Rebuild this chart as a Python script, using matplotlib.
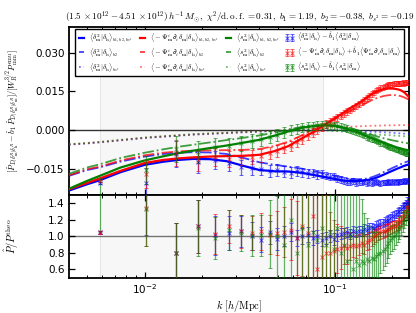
#Residual bias spectra of the three quadratic operators, with model curves and ratio panel
import matplotlib
matplotlib.use('Agg')
import matplotlib.pyplot as plt
import numpy as np

#k bins of the measurement [h/Mpc]
k = [0.0058, 0.0102, 0.0146, 0.0190, 0.0234, 0.0278, 0.0322, 0.0366, 0.0410, 0.0454,
     0.0498, 0.0542, 0.0586, 0.0630, 0.0674, 0.0718, 0.0762, 0.0806, 0.0850, 0.0894,
     0.0938, 0.0982, 0.1026, 0.1070, 0.1114, 0.1158, 0.1202, 0.1246, 0.1290, 0.1334,
     0.1378, 0.1422, 0.1466, 0.1510, 0.1554, 0.1598, 0.1642, 0.1686, 0.1730, 0.1774,
     0.1818, 0.1862, 0.1906, 0.1950, 0.1994, 0.2038, 0.2082, 0.2126, 0.2170, 0.2214,
     0.2258, 0.2302, 0.2346, 0.2390]

#measured residuals (top panel)
data_d2 = [-0.0205, -0.0204, -0.0094, -0.0125, -0.0116, -0.0128, -0.0145, -0.0148, -0.0150, -0.0160,
           -0.0155, -0.0161, -0.0165, -0.0160, -0.0164, -0.0168, -0.0166, -0.0172, -0.0170, -0.0176,
           -0.0181, -0.0179, -0.0188, -0.0192, -0.0197, -0.0200, -0.0202, -0.0199, -0.0204, -0.0201,
           -0.0203, -0.0200, -0.0205, -0.0202, -0.0206, -0.0203, -0.0200, -0.0204, -0.0206, -0.0202,
           -0.0205, -0.0203, -0.0200, -0.0204, -0.0201, -0.0203, -0.0199, -0.0202, -0.0200, -0.0198,
           -0.0201, -0.0197, -0.0199, -0.0196]
data_psi = [-0.0198, -0.0170, -0.0089, -0.0118, -0.0105, -0.0113, -0.0106, -0.0103, -0.0100, -0.0088,
            -0.0081, -0.0070, -0.0062, -0.0045, -0.0036, -0.0021, -0.0010, 0.0001, 0.0012, 0.0022,
            0.0031, 0.0041, 0.0049, 0.0056, 0.0063, 0.0072, 0.0079, 0.0086, 0.0094, 0.0101,
            0.0108, 0.0116, 0.0123, 0.0131, 0.0139, 0.0146, 0.0152, 0.0158, 0.0163, 0.0166,
            0.0170, 0.0173, 0.0175, 0.0177, 0.0178, 0.0180, 0.0179, 0.0181, 0.0182, 0.0180,
            0.0183, 0.0182, 0.0184, 0.0183]
data_s2 = [-0.0390, -0.0156, -0.0074, -0.0085, -0.0066, -0.0063, -0.0052, -0.0044, -0.0036, -0.0028,
           -0.0019, -0.0008, 0.0000, 0.0005, 0.0010, 0.0014, 0.0017, 0.0018, 0.0020, 0.0021,
           0.0019, 0.0018, 0.0016, 0.0013, 0.0009, 0.0005, 0.0001, -0.0004, -0.0008, -0.0013,
           -0.0017, -0.0021, -0.0026, -0.0030, -0.0034, -0.0038, -0.0042, -0.0046, -0.0050, -0.0053,
           -0.0057, -0.0060, -0.0063, -0.0066, -0.0069, -0.0072, -0.0074, -0.0077, -0.0079, -0.0082,
           -0.0084, -0.0086, -0.0089, -0.0091]
err_top = [0.0005, 0.0055, 0.0050, 0.0042, 0.0036, 0.0032, 0.0030, 0.0027, 0.0025, 0.0023,
           0.0022, 0.0021, 0.0020, 0.0019, 0.0018, 0.0017, 0.0016, 0.0016, 0.0015, 0.0015,
           0.0014, 0.0014, 0.0014, 0.0013, 0.0013, 0.0013, 0.0012, 0.0012, 0.0012, 0.0012,
           0.0011, 0.0011, 0.0011, 0.0011, 0.0011, 0.0010, 0.0010, 0.0010, 0.0010, 0.0010,
           0.0010, 0.0010, 0.0010, 0.0010, 0.0010, 0.0010, 0.0010, 0.0010, 0.0010, 0.0010,
           0.0010, 0.0010, 0.0010, 0.0010]
err_top_s2 = [0.0205, 0.0055, 0.0050, 0.0042, 0.0036, 0.0032, 0.0030, 0.0027, 0.0025, 0.0023,
              0.0022, 0.0021, 0.0020, 0.0019, 0.0018, 0.0017, 0.0016, 0.0016, 0.0015, 0.0015,
              0.0014, 0.0014, 0.0014, 0.0013, 0.0013, 0.0013, 0.0012, 0.0012, 0.0012, 0.0012,
              0.0011, 0.0011, 0.0011, 0.0011, 0.0011, 0.0010, 0.0010, 0.0010, 0.0010, 0.0010,
              0.0010, 0.0010, 0.0010, 0.0010, 0.0010, 0.0010, 0.0010, 0.0010, 0.0010, 0.0010,
              0.0010, 0.0010, 0.0010, 0.0010]

#ratio to theory (bottom panel)
ratio_d2 = [1.05, 1.52, 0.80, 1.12, 1.01, 1.04, 1.06, 1.00, 0.96, 1.05,
            0.97, 1.00, 1.05, 0.98, 1.00, 1.02, 0.98, 1.00, 0.96, 0.98,
            1.00, 0.97, 1.01, 1.03, 1.04, 1.05, 1.03, 1.06, 1.05, 1.07,
            1.06, 1.09, 1.08, 1.10, 1.11, 1.10, 1.13, 1.14, 1.15, 1.16,
            1.18, 1.19, 1.20, 1.22, 1.24, 1.25, 1.27, 1.29, 1.31, 1.33,
            1.35, 1.37, 1.39, 1.42]
rerr_d2 = [0.02, 0.50, 0.36, 0.32, 0.24, 0.20, 0.19, 0.17, 0.15, 0.14,
           0.13, 0.12, 0.11, 0.10, 0.095, 0.09, 0.085, 0.08, 0.078, 0.075,
           0.072, 0.07, 0.068, 0.066, 0.065, 0.064, 0.063, 0.062, 0.061, 0.060,
           0.059, 0.058, 0.057, 0.056, 0.056, 0.055, 0.055, 0.054, 0.054, 0.053,
           0.053, 0.052, 0.052, 0.052, 0.051, 0.051, 0.051, 0.050, 0.050, 0.050,
           0.050, 0.050, 0.050, 0.050]
ratio_psi = [1.05, 1.34, 0.80, 1.12, 1.03, 1.12, 1.06, 1.04, 1.06, 1.02,
             1.04, 1.05, 1.08, 0.98, 1.12, 1.04, 1.25, 0.60, 0.75, 0.80,
             0.80, 0.82, 0.85, 0.86, 0.88, 0.86, 0.88, 0.90, 0.88, 0.90,
             0.92, 0.90, 0.93, 0.95, 0.97, 1.00, 1.02, 1.04, 1.05, 1.06,
             1.07, 1.08, 1.09, 1.10, 1.11, 1.12, 1.13, 1.15, 1.17, 1.19,
             1.22, 1.25, 1.30, 1.36]
rerr_psi = [0.02, 0.46, 0.36, 0.32, 0.24, 0.20, 0.20, 0.20, 0.22, 0.24,
            0.27, 0.30, 0.37, 0.45, 0.60, 0.85, 2.0, 8.0, 1.2, 0.70,
            0.50, 0.38, 0.30, 0.26, 0.22, 0.19, 0.17, 0.15, 0.14, 0.13,
            0.12, 0.11, 0.10, 0.10, 0.09, 0.09, 0.085, 0.08, 0.08, 0.08,
            0.08, 0.075, 0.075, 0.075, 0.075, 0.07, 0.07, 0.07, 0.07, 0.07,
            0.07, 0.07, 0.07, 0.07]
ratio_s2 = [2.20, 1.33, 0.80, 1.10, 0.98, 1.08, 1.04, 1.01, 1.01, 1.03,
            1.00, 0.90, 1.20, 0.80, 1.10, 0.90, 1.05, 0.95, 1.10, 0.90,
            1.05, 0.85, 1.10, 0.80, 0.90, 0.70, 1.00, 0.60, 0.70, 0.65,
            0.70, 0.68, 0.72, 0.70, 0.74, 0.72, 0.76, 0.78, 0.80, 0.82,
            0.85, 0.88, 0.92, 0.95, 0.98, 1.00, 1.03, 1.06, 1.10, 1.13,
            1.17, 1.21, 1.25, 1.30]
rerr_s2 = [1.15, 0.45, 0.36, 0.34, 0.25, 0.24, 0.22, 0.25, 0.25, 0.41,
           0.49, 1.0, 5.0, 2.5, 1.3, 0.9, 0.8, 0.7, 0.65, 0.63,
           0.65, 0.7, 0.85, 1.1, 1.5, 3.0, 10.0, 3.0, 1.5, 1.0,
           0.75, 0.6, 0.5, 0.42, 0.37, 0.33, 0.3, 0.27, 0.25, 0.23,
           0.21, 0.2, 0.18, 0.17, 0.16, 0.15, 0.14, 0.13, 0.13, 0.12,
           0.12, 0.11, 0.11, 0.10]

#theory curves
k_th = [0.004, 0.005, 0.0058, 0.0075, 0.01, 0.0125, 0.015, 0.018, 0.022, 0.027,
        0.033, 0.04, 0.048, 0.057, 0.067, 0.078, 0.09, 0.1, 0.11, 0.12,
        0.13, 0.14, 0.15, 0.16, 0.17, 0.18, 0.19, 0.2, 0.21, 0.22,
        0.23, 0.244]
th_d2_all = [-0.0235, -0.0210, -0.0195, -0.0163, -0.0135, -0.0123, -0.0116, -0.0112, -0.0113, -0.0121,
             -0.0139, -0.0155, -0.0160, -0.0161, -0.0166, -0.0175, -0.0184, -0.0190, -0.0196, -0.0198,
             -0.0198, -0.0196, -0.0193, -0.0188, -0.0181, -0.0173, -0.0165, -0.0158, -0.0151, -0.0145,
             -0.0139, -0.0133]
th_d2_b2 = [-0.0178, -0.0155, -0.0145, -0.0122, -0.0103, -0.0093, -0.0088, -0.0086, -0.0087, -0.0093,
            -0.0108, -0.0125, -0.0135, -0.0142, -0.0150, -0.0160, -0.0170, -0.0178, -0.0185, -0.0189,
            -0.0191, -0.0190, -0.0187, -0.0180, -0.0172, -0.0163, -0.0155, -0.0147, -0.0140, -0.0133,
            -0.0127, -0.0120]
th_d2_bs2 = [-0.0057, -0.0052, -0.0048, -0.0040, -0.0031, -0.0026, -0.0022, -0.0018, -0.0015, -0.0012,
             -0.0009, -0.0006, -0.0004, -0.0002, -0.0001, 0.0000, 0.0000, -0.0001, -0.0002, -0.0003,
             -0.0004, -0.0005, -0.0006, -0.0007, -0.0008, -0.0009, -0.0010, -0.0011, -0.0012, -0.0013,
             -0.0014, -0.0016]
th_psi_all = [-0.0230, -0.0205, -0.0188, -0.0158, -0.0128, -0.0116, -0.0110, -0.0106, -0.0103, -0.0101,
              -0.0100, -0.0096, -0.0082, -0.0062, -0.0032, -0.0005, 0.0025, 0.0047, 0.0066, 0.0085,
              0.0100, 0.0115, 0.0132, 0.0145, 0.0153, 0.0159, 0.0161, 0.0161, 0.0159, 0.0155,
              0.0147, 0.0128]
th_psi_b2 = [-0.0176, -0.0152, -0.0142, -0.0118, -0.0098, -0.0088, -0.0083, -0.0080, -0.0079, -0.0078,
             -0.0077, -0.0074, -0.0062, -0.0045, -0.0020, 0.0003, 0.0025, 0.0043, 0.0060, 0.0074,
             0.0087, 0.0098, 0.0110, 0.0120, 0.0127, 0.0132, 0.0135, 0.0136, 0.0135, 0.0132,
             0.0127, 0.0118]
th_psi_bs2 = [-0.0056, -0.0051, -0.0047, -0.0039, -0.0030, -0.0025, -0.0021, -0.0017, -0.0014, -0.0011,
              -0.0008, -0.0005, -0.0003, -0.0001, 0.0002, 0.0005, 0.0008, 0.0010, 0.0012, 0.0013,
              0.0014, 0.0015, 0.0016, 0.0017, 0.0017, 0.0018, 0.0018, 0.0018, 0.0019, 0.0019,
              0.0019, 0.0019]
th_s2_all = [-0.0228, -0.0197, -0.0178, -0.0145, -0.0118, -0.0102, -0.0090, -0.0080, -0.0070, -0.0060,
             -0.0049, -0.0038, -0.0022, -0.0005, 0.0009, 0.0016, 0.0019, 0.0016, 0.0009, 0.0001,
             -0.0008, -0.0017, -0.0027, -0.0035, -0.0043, -0.0050, -0.0056, -0.0062, -0.0067, -0.0071,
             -0.0075, -0.0079]
th_s2_b2 = [-0.0170, -0.0145, -0.0133, -0.0108, -0.0088, -0.0075, -0.0065, -0.0057, -0.0048, -0.0039,
            -0.0030, -0.0021, -0.0010, 0.0002, 0.0012, 0.0017, 0.0019, 0.0017, 0.0012, 0.0006,
            -0.0001, -0.0008, -0.0015, -0.0021, -0.0027, -0.0032, -0.0036, -0.0040, -0.0043, -0.0046,
            -0.0049, -0.0052]
th_s2_bs2 = [-0.0055, -0.0050, -0.0046, -0.0038, -0.0029, -0.0024, -0.0020, -0.0016, -0.0013, -0.0010,
             -0.0007, -0.0005, -0.0003, -0.0002, -0.0001, -0.0001, -0.0002, -0.0004, -0.0006, -0.0008,
             -0.0010, -0.0012, -0.0014, -0.0016, -0.0018, -0.0019, -0.0020, -0.0021, -0.0022, -0.0023,
             -0.0024, -0.0026]

title = (r'$(1.5\,\times10^{12}-4.51\,\times10^{12})\,h^{-1}\,M_{\odot},\ \chi^2/{\rm d.o.f.}=0.31,'
         r'\ b_1=1.19,\ b_2=-0.38,\ b_{s^2}=-0.19$')

lab_d2 = r'\langle\delta^2_{\rm m}|\delta_{\rm h}\rangle'
lab_psi = r'\langle-\Psi^i_{\rm m}\partial_i\delta_{\rm m}|\delta_{\rm h}\rangle'
lab_s2 = r'\langle s^2_{\rm m}|\delta_{\rm h}\rangle'
lab_eb = [r'$\langle\delta^2_{\rm m}|\delta_{\rm h}\rangle-\hat{b}_1\langle\delta^2_{\rm m}|\delta_{\rm m}\rangle$',
          r'$\langle-\Psi^i_{\rm m}\partial_i\delta_{\rm m}|\delta_{\rm h}\rangle+\hat{b}_1\langle\Psi^i_{\rm m}\partial_i\delta_{\rm m}|\delta_{\rm m}\rangle$',
          r'$\langle s^2_{\rm m}|\delta_{\rm h}\rangle-\hat{b}_1\langle s^2_{\rm m}|\delta_{\rm m}\rangle$']

plt.rcParams['mathtext.fontset'] = 'cm'
plt.rcParams['axes.linewidth'] = 1.3
plt.rcParams['xtick.direction'] = 'in'
plt.rcParams['ytick.direction'] = 'in'
plt.rcParams['xtick.top'] = True
plt.rcParams['ytick.right'] = True

fig = plt.figure(figsize=(4.16, 3.13), dpi=100)
ax1 = fig.add_axes([0.167, 0.377, 0.816, 0.537])
ax2 = fig.add_axes([0.167, 0.113, 0.816, 0.264], sharex=ax1)

for ax in (ax1, ax2):
    ax.axvspan(0.0058, 0.0865, facecolor='0.97', edgecolor='0.88', lw=0.6, zorder=0)

ax1.axhline(0, color='0.2', lw=1.0, zorder=1)
ax2.axhline(1, color='0.45', lw=1.0, zorder=1)

sets = [('#0000ff', lab_d2, th_d2_all, th_d2_b2, th_d2_bs2, data_d2, err_top, ratio_d2, rerr_d2),
        ('#ff0000', lab_psi, th_psi_all, th_psi_b2, th_psi_bs2, data_psi, err_top, ratio_psi, rerr_psi),
        ('#008000', lab_s2, th_s2_all, th_s2_b2, th_s2_bs2, data_s2, err_top_s2, ratio_s2, rerr_s2)]

line_handles = []
line_labels = []
eb_handles = []
for col, lab, th_all, th_b2, th_bs2, dat, err, rat, rerr in sets:
    h1, = ax1.plot(k_th, th_all, '-', color=col, lw=1.6, zorder=3)
    h2, = ax1.plot(k_th, th_b2, '-.', color=col, lw=1.3, alpha=0.75, zorder=3)
    h3, = ax1.plot(k_th, th_bs2, ':', color=col, lw=1.3, alpha=0.55, zorder=3)
    line_handles += [h1, h2, h3]
    line_labels += ['$' + lab + '_{b_1,b_2,b_{s^2}}$', '$' + lab + '_{b_2}$', '$' + lab + '_{b_{s^2}}$']
    eb = ax1.errorbar(k, dat, yerr=err, fmt='x', color=col, ms=2.2, mew=0.7,
                      elinewidth=0.9, capsize=1.6, capthick=0.8, alpha=0.6, zorder=4)
    eb_handles.append(eb)
    ax2.errorbar(k, rat, yerr=rerr, fmt='x', color=col, ms=2.2, mew=0.7,
                 elinewidth=0.9, capsize=1.6, capthick=0.8, alpha=0.6, zorder=4)

leg = ax1.legend(line_handles + eb_handles, line_labels + lab_eb, ncol=4, loc='upper center',
                 fontsize=5.2, numpoints=2, handlelength=1.3, columnspacing=0.7, handletextpad=0.4,
                 borderpad=0.3, labelspacing=0.25, fancybox=False, edgecolor='k', framealpha=1,
                 borderaxespad=0.3)
leg.get_frame().set_linewidth(1.0)

ax1.set_xscale('log')
ax1.set_xlim(0.00403, 0.244)
ax1.set_ylim(-0.0252, 0.040)
ax1.set_yticks([-0.015, 0.0, 0.015, 0.030])
ax2.set_ylim(0.5, 1.5)
ax2.set_yticks([0.6, 0.8, 1.0, 1.2, 1.4])

for ax in (ax1, ax2):
    ax.tick_params(which='major', length=4.5, width=0.9, labelsize=7.5)
    ax.tick_params(which='minor', length=2.5, width=0.7)
ax1.tick_params(labelbottom=False)

ax1.set_title(title, fontsize=6.6, pad=5)
ax1.set_ylabel(r'$[\hat{P}_{D|\delta^R_{\rm m}|\delta^R_{\rm h}}-\hat{b}_1\,\hat{P}_{D|\delta^R_{\rm m}|\delta^R_{\rm m}}]/[W_R^{3/2}P^{\rm emu}_{\rm mm}]$',
               fontsize=6.0)
ax1.yaxis.set_label_coords(-0.142, 0.5)
ax2.set_ylabel(r'$\hat{P}/P^{\rm theo}$', fontsize=7.5)
ax2.yaxis.set_label_coords(-0.142, 0.5)
ax2.set_xlabel(r'$k\ [h/{\rm Mpc}]$', fontsize=7.5, labelpad=1)

fig.savefig('out.png', dpi=100)
